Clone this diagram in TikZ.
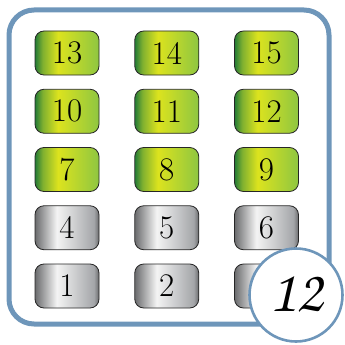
\documentclass[tikz,border=0pt]{standalone}
\usepackage{xcolor}
\usepackage{tikz}
\usetikzlibrary{positioning}

\definecolor{frameblue}{HTML}{6E96BA}
\definecolor{keydgreen}{HTML}{237A35}
\definecolor{keymgreen}{HTML}{7FB030}
\definecolor{keyyellow}{HTML}{DCE31E}
\definecolor{keylgreen}{HTML}{8EC641}
\definecolor{keydgray}{HTML}{6A6B6D}
\definecolor{keywhite}{HTML}{F4F4F4}
\definecolor{keylgray}{HTML}{A4A6A9}

\pgfdeclarehorizontalshading{greenkey}{100bp}{color(0bp)=(keydgreen); color(25bp)=(keydgreen);
  color(31bp)=(keymgreen); color(43bp)=(keyyellow); color(75bp)=(keylgreen); color(100bp)=(keylgreen)}
\pgfdeclarehorizontalshading{graykey}{100bp}{color(0bp)=(keydgray); color(25bp)=(keydgray);
  color(42bp)=(keywhite); color(71bp)=(keylgray); color(75bp)=(keydgray); color(100bp)=(keydgray)}

\begin{document}
\begin{tikzpicture}[
      x=1pt, y=-1pt,
      on grid,
      node distance=58.25pt and 99.75pt,
      every key/.style={draw=black!85, line width=0.8pt, rounded corners=9pt,
        minimum width=64pt, minimum height=44pt, inner sep=0pt,
        font=\fontsize{33}{35}\selectfont},
      greenkey/.style={every key, shading=greenkey},
      graykey/.style={every key, shading=graykey},
      badge/.style={circle, draw=frameblue, line width=2.6pt, fill=white,
        minimum size=93pt, inner sep=0pt},
    ]
    \useasboundingbox (0,0) rectangle (345,345);

    % frame
    \draw[frameblue, line width=5pt, rounded corners=25pt] (9,10) rectangle (329,324);

    % keys
    \node[greenkey] (k13) at (67,53) {13};
    \node[greenkey, right=of k13] (k14) {14};
    \node[greenkey, right=of k14] (k15) {15};
    \node[greenkey, below=of k13] (k10) {10};
    \node[greenkey, right=of k10] (k11) {11};
    \node[greenkey, right=of k11] (k12) {12};
    \node[greenkey, below=of k10] (k7) {7};
    \node[greenkey, right=of k7]  (k8) {8};
    \node[greenkey, right=of k8]  (k9) {9};
    \node[graykey, below=of k7] (k4) {4};
    \node[graykey, right=of k4] (k5) {5};
    \node[graykey, right=of k5] (k6) {6};
    \node[graykey, below=of k4] (k1) {1};
    \node[graykey, right=of k1] (k2) {2};
    \node[graykey, right=of k2] (k3) {3};

    % count
    \node[badge] (count) at (296,295) {};
    \node[font={\fontencoding{T1}\fontfamily{pzc}\fontseries{m}\fontshape{it}\fontsize{60}{62}\selectfont}]
      (countlabel) at ([yshift=2pt]count) {12};

  \end{tikzpicture}
\end{document}
